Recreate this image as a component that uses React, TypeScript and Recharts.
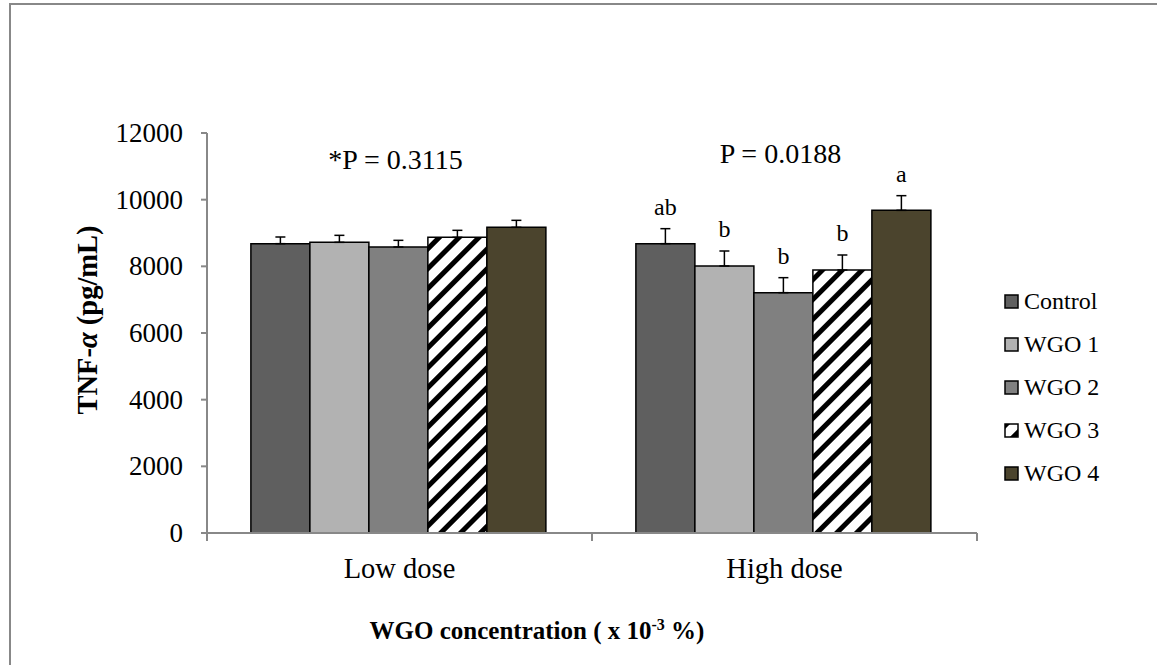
import React from "react";
import {
  Bar,
  ComposedChart,
  ErrorBar,
  Label,
  LabelList,
  Legend,
  ReferenceDot,
  XAxis,
  YAxis,
} from "recharts";

const categories = ["Low dose", "High dose"];
const seriesNames = ["Control", "WGO 1", "WGO 2", "WGO 3", "WGO 4"];
const lowDoseMeans = [8680, 8720, 8580, 8870, 9170];
const lowDoseErrors = [200, 210, 200, 210, 210];
const highDoseMeans = [8680, 8010, 7210, 7890, 9680];
const highDoseErrors = [450, 450, 450, 450, 440];
const lowDoseLetters = ["", "", "", "", ""];
const highDoseLetters = ["ab", "b", "b", "b", "a"];
const pValueLabels = ["*P = 0.3115", "P = 0.0188"];
const pValueHeights = [10920, 11100];
const yTicks = [0, 2000, 4000, 6000, 8000, 10000, 12000];

const FONT = "Liberation Serif, Times New Roman, serif";
const AXIS_GREY = "#888888";
const fills = ["#5f5f5f", "#b2b2b2", "#808080", "url(#wgo3Hatch)", "#4b442d"];

const means = [lowDoseMeans, highDoseMeans];
const errors = [lowDoseErrors, highDoseErrors];
const letters = [lowDoseLetters, highDoseLetters];

const rows = categories.map((cat, c) => {
  const row: Record<string, any> = { cat };
  seriesNames.forEach((_, s) => {
    row[`s${s}`] = means[c][s];
    row[`e${s}`] = [0, errors[c][s]];
    row[`l${s}`] = letters[c][s];
  });
  return row;
});

// letter sits just above the error-bar cap; pixel size of the error comes from the bar's own scale
const letterContent = (s: number) => (props: any) => {
  const vb = props.viewBox ?? props;
  const row = rows[props.index];
  if (!row || !row[`l${s}`]) return null;
  const h = Math.abs(vb.height);
  const errPx = (h / row[`s${s}`]) * row[`e${s}`][1];
  return (
    <text
      x={vb.x + vb.width / 2}
      y={vb.y - errPx - 14}
      textAnchor="middle"
      style={{ fontFamily: FONT, fontSize: 24 }}
      fill="#000"
    >
      {row[`l${s}`]}
    </text>
  );
};

// category label plus the Excel-style tick marks on the band edges
const categoryTick = (props: any) => {
  const { x, y, payload, index, visibleTicksCount } = props;
  const half = payload.offset ?? 192.5;
  const last = index === (visibleTicksCount ?? categories.length) - 1;
  return (
    <g>
      <line x1={x - half} x2={x - half} y1={y} y2={y + 8} stroke={AXIS_GREY} strokeWidth={2} />
      {last && <line x1={x + half} x2={x + half} y1={y} y2={y + 8} stroke={AXIS_GREY} strokeWidth={2} />}
      <text x={x} y={y + 45} textAnchor="middle" fill="#000" style={{ fontFamily: FONT, fontSize: 28.5 }}>
        {payload.value}
      </text>
    </g>
  );
};

const yTick = (props: any) => {
  const { x, y, payload } = props;
  return (
    <text
      x={x}
      y={y}
      textAnchor="end"
      dominantBaseline="central"
      fill="#000"
      style={{ fontFamily: FONT, fontSize: 27 }}
    >
      {payload.value}
    </text>
  );
};

const yTitle = (props: any) => {
  const vb = props.viewBox;
  const cx = vb.x + 47;
  const cy = vb.y + vb.height / 2 - 13;
  return (
    <text
      x={cx}
      y={cy}
      transform={`rotate(-90, ${cx}, ${cy})`}
      textAnchor="middle"
      dominantBaseline="central"
      style={{ fontFamily: FONT, fontSize: 28.5, fontWeight: "bold" }}
      fill="#000"
    >
      TNF-<tspan style={{ fontStyle: "italic" }}>α</tspan> (pg/mL)
    </text>
  );
};

const xTitle = (props: any) => {
  const vb = props.viewBox;
  return (
    <text
      x={vb.x + vb.width / 2 - 55}
      y={639}
      textAnchor="middle"
      style={{ fontFamily: FONT, fontSize: 25, fontWeight: "bold" }}
      fill="#000"
    >
      WGO concentration ( x 10
      <tspan dy={-9} style={{ fontSize: 16 }}>
        -3
      </tspan>
      <tspan dy={9}> %)</tspan>
    </text>
  );
};

const pLabel = (text: string) => (props: any) => {
  const vb = props.viewBox;
  return (
    <text
      x={vb.x - 4}
      y={vb.y}
      textAnchor="middle"
      style={{ fontFamily: FONT, fontSize: 28, whiteSpace: "pre" }}
      fill="#000"
    >
      {text}
    </text>
  );
};

const renderLegend = () => (
  <div style={{ fontFamily: FONT, fontSize: 24, color: "#000" }}>
    {seriesNames.map((name, i) => (
      <div key={name} style={{ display: "flex", alignItems: "center", height: 43 }}>
        <svg width={15} height={15} style={{ marginRight: 5 }}>
          <rect x={1} y={1} width={13} height={13} fill={fills[i]} stroke="#000" strokeWidth={1.5} />
        </svg>
        <span>{name}</span>
      </div>
    ))}
  </div>
);

export default function App() {
  return (
    <div
      style={{
        position: "absolute",
        left: 0,
        top: 0,
        width: 1157,
        height: 665,
        background: "#fff",
        fontFamily: FONT,
      }}
    >
      <div
        style={{
          position: "absolute",
          left: 9,
          top: 3,
          width: 1148,
          height: 662,
          borderLeft: `2px solid ${AXIS_GREY}`,
          borderTop: `2px solid ${AXIS_GREY}`,
          boxSizing: "border-box",
        }}
      />
      <div style={{ position: "absolute", left: 0, top: 0 }}>
        <ComposedChart
          width={1157}
          height={665}
          data={rows}
          margin={{ top: 133, right: 180, bottom: 32, left: 40 }}
          barCategoryGap="11.4%"
          barGap={0}
          style={{ fontFamily: FONT }}
        >
          <defs>
            <pattern
              id="wgo3Hatch"
              patternUnits="userSpaceOnUse"
              width={14}
              height={14}
              patternTransform="rotate(45)"
            >
              <rect width={14} height={14} fill="#fff" />
              <rect width={5} height={14} fill="#000" />
            </pattern>
          </defs>
          <XAxis
            dataKey="cat"
            interval={0}
            axisLine={{ stroke: AXIS_GREY, strokeWidth: 2 }}
            tickLine={false}
            tickSize={0}
            tickMargin={0}
            height={100}
            tick={categoryTick}
          >
            <Label content={xTitle} />
          </XAxis>
          <YAxis
            domain={[0, 12000]}
            ticks={yTicks}
            width={167}
            tickSize={6}
            tickMargin={18}
            axisLine={{ stroke: AXIS_GREY, strokeWidth: 2 }}
            tickLine={{ stroke: AXIS_GREY, strokeWidth: 2 }}
            tick={yTick}
          >
            <Label content={yTitle} />
          </YAxis>
          {seriesNames.map((name, s) => (
            <Bar
              key={name}
              dataKey={`s${s}`}
              name={name}
              fill={fills[s]}
              stroke="#000"
              strokeWidth={1.5}
              isAnimationActive={false}
            >
              <ErrorBar dataKey={`e${s}`} width={5} stroke="#000" strokeWidth={1.5} />
              <LabelList dataKey={`l${s}`} content={letterContent(s)} />
            </Bar>
          ))}
          {categories.map((cat, c) => (
            <ReferenceDot
              key={cat}
              x={cat}
              y={pValueHeights[c]}
              r={0}
              fill="none"
              stroke="none"
              label={{ content: pLabel(pValueLabels[c]) }}
            />
          ))}
          <Legend
            layout="vertical"
            align="center"
            verticalAlign="middle"
            content={renderLegend}
            wrapperStyle={{ left: 1004, top: 280, width: 150 }}
          />
        </ComposedChart>
      </div>
    </div>
  );
}
